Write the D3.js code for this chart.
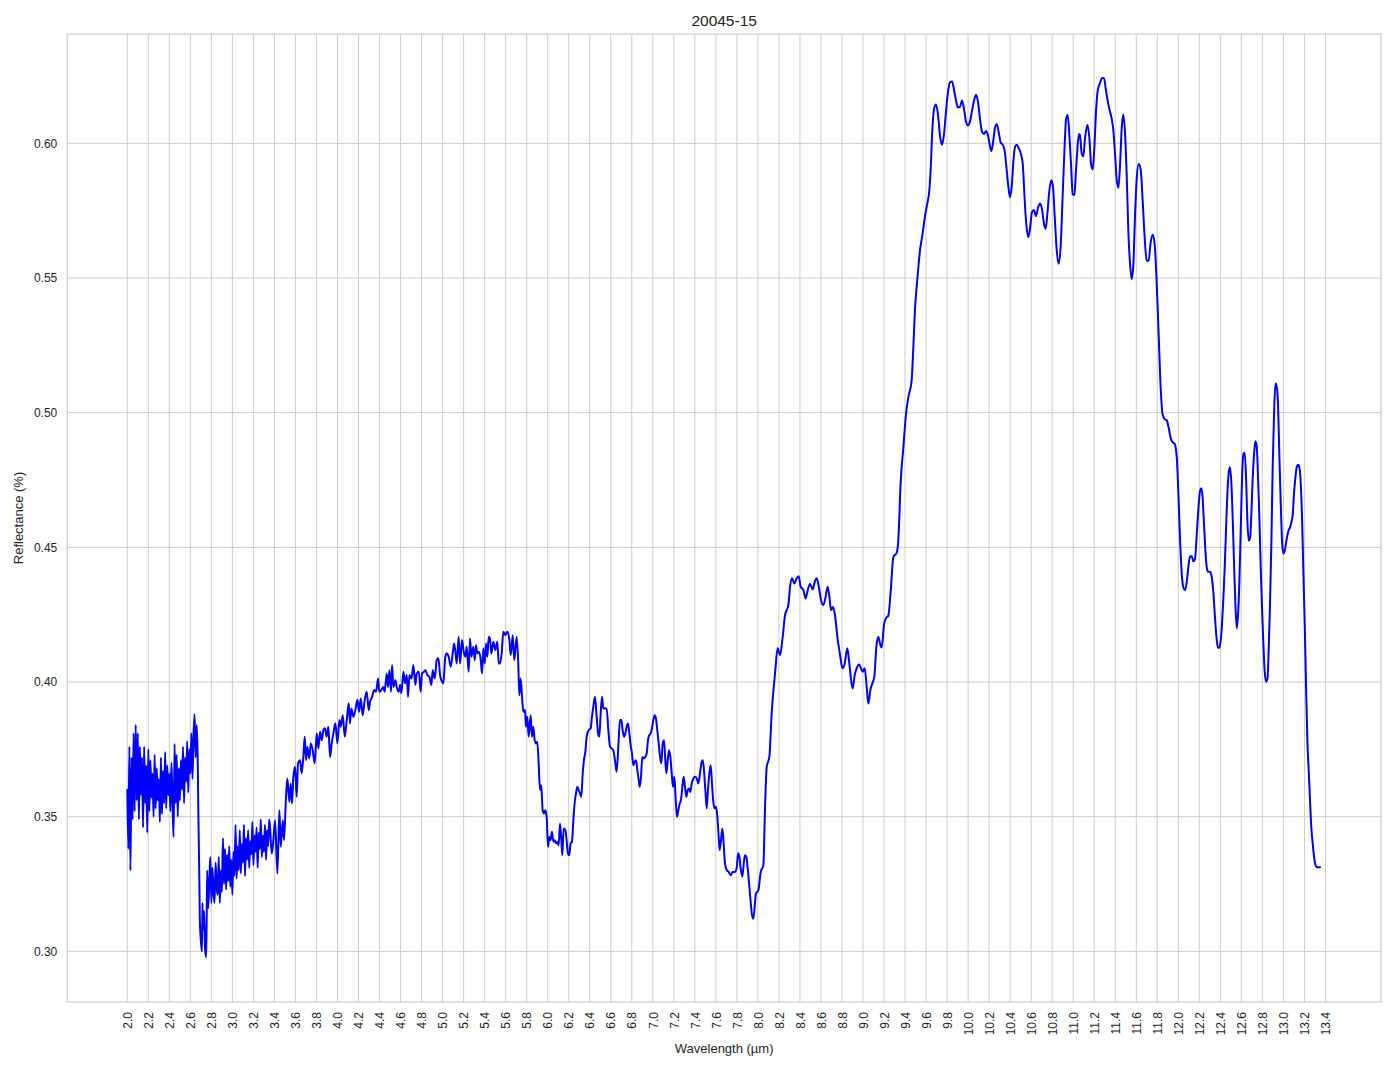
<!DOCTYPE html>
<html>
<head>
<meta charset="utf-8">
<script src="https://cdn.jsdelivr.net/npm/d3@7"></script>
<style>
  html, body { margin: 0; padding: 0; background: #ffffff; }
  svg { display: block; }
  text { font-family: "Liberation Sans", Arial, sans-serif; fill: #262626; }
</style>
</head>
<body>
<svg id="chart" width="1394" height="1069"></svg>
<script>
// ---------- data (wavelength µm, reflectance) ----------
const chartTitle = "20045-15";
const xLabel = "Wavelength (µm)";
const yLabel = "Reflectance (%)";

const xTicks = [2.0,2.2,2.4,2.6,2.8,3.0,3.2,3.4,3.6,3.8,4.0,4.2,4.4,4.6,4.8,5.0,5.2,5.4,5.6,5.8,
  6.0,6.2,6.4,6.6,6.8,7.0,7.2,7.4,7.6,7.8,8.0,8.2,8.4,8.6,8.8,9.0,9.2,9.4,9.6,9.8,
  10.0,10.2,10.4,10.6,10.8,11.0,11.2,11.4,11.6,11.8,12.0,12.2,12.4,12.6,12.8,13.0,13.2,13.4];
const yTicks = [0.30,0.35,0.40,0.45,0.50,0.55,0.60];

const seg1 = [[2.00,0.360],[2.01,0.338],[2.02,0.376],[2.03,0.330],[2.04,0.372],[2.05,0.349],[2.06,0.381],[2.07,0.352],
[2.08,0.384],[2.09,0.356],[2.10,0.381],[2.11,0.349],[2.12,0.376],[2.13,0.358],[2.14,0.372],[2.15,0.346],[2.16,0.376],
[2.17,0.355],[2.18,0.369],[2.19,0.344],[2.20,0.375],[2.21,0.352],[2.22,0.371],[2.23,0.357],[2.24,0.366],[2.25,0.350],
[2.26,0.373],[2.27,0.353],[2.28,0.368],[2.29,0.356],[2.30,0.364],[2.31,0.348],[2.32,0.372],[2.33,0.351],[2.34,0.367],
[2.35,0.355],[2.36,0.374],[2.37,0.353],[2.38,0.369],[2.39,0.358],[2.40,0.366],[2.41,0.352],[2.42,0.370],[2.43,0.356],
[2.44,0.3425],[2.45,0.377],[2.46,0.355],[2.47,0.373],[2.48,0.350],[2.49,0.368],[2.50,0.356],[2.51,0.371],[2.52,0.360],
[2.53,0.376],[2.54,0.355],[2.55,0.372],[2.56,0.363],[2.57,0.378],[2.58,0.359],[2.59,0.375],[2.60,0.366],[2.61,0.381],
[2.62,0.364],[2.63,0.380],[2.64,0.388],[2.65,0.372],[2.66,0.384]];

const seg2 = [[2.67,0.371],[2.675,0.355],[2.68,0.341],[2.685,0.328],[2.69,0.312],[2.70,0.304],[2.71,0.300],[2.715,0.318],
[2.72,0.308],[2.73,0.315],[2.74,0.301],[2.75,0.2978],[2.755,0.311],[2.76,0.330],[2.77,0.316],[2.78,0.326],[2.79,0.335],
[2.80,0.318],[2.81,0.331],[2.82,0.322],[2.83,0.318],[2.84,0.333]];

const seg3 = [[2.85,0.324],[2.86,0.321],[2.87,0.335],[2.88,0.318],[2.89,0.330],[2.90,0.322],[2.91,0.342],[2.92,0.325],
[2.93,0.338],[2.94,0.323],[2.95,0.336],[2.96,0.326],[2.97,0.339],[2.98,0.324],[2.99,0.334],[3.00,0.321],[3.01,0.337],
[3.02,0.328],[3.03,0.347],[3.04,0.327],[3.05,0.339],[3.06,0.330],[3.07,0.345],[3.08,0.329],[3.09,0.340],[3.10,0.333],
[3.11,0.347],[3.12,0.328],[3.13,0.342],[3.14,0.334],[3.15,0.345],[3.16,0.331],[3.17,0.341],[3.18,0.336],[3.19,0.348],
[3.20,0.332],[3.21,0.343],[3.22,0.337],[3.23,0.346],[3.24,0.331],[3.25,0.344],[3.26,0.338],[3.27,0.349],[3.28,0.335],
[3.29,0.343],[3.30,0.337],[3.31,0.347],[3.32,0.334],[3.33,0.345],[3.34,0.339],[3.35,0.349]];

const seg4 = [[3.358,0.3462],[3.374,0.3363],[3.390,0.3413],[3.406,0.3487],[3.428,0.3289],[3.447,0.3524],[3.460,0.3388],
[3.479,0.3487],[3.491,0.3413],[3.510,0.3574],[3.523,0.3642],[3.542,0.3555],[3.555,0.3623],[3.567,0.3549],[3.580,0.3648],
[3.596,0.3685],[3.612,0.3574],[3.624,0.3698],[3.643,0.3710],[3.659,0.3661],[3.675,0.3722],[3.688,0.3797],[3.701,0.3710],
[3.713,0.3760],[3.732,0.3716],[3.745,0.3772],[3.764,0.3747],[3.783,0.3698],[3.802,0.3809],[3.818,0.3753],[3.834,0.3815],
[3.850,0.3784],[3.866,0.3822],[3.881,0.3828],[3.897,0.3797],[3.913,0.3834],[3.929,0.3722],[3.945,0.3772],[3.961,0.3809],
[3.980,0.3847],[3.999,0.3772],[4.018,0.3859],[4.030,0.3834],[4.050,0.3877],[4.069,0.3797],[4.088,0.3859],[4.107,0.3921],
[4.119,0.3846],[4.132,0.3902],[4.151,0.3871],[4.170,0.3896],[4.189,0.3934],[4.205,0.3890],[4.221,0.3939],[4.240,0.3877],
[4.259,0.3933],[4.278,0.3964],[4.297,0.3896],[4.310,0.3927],[4.329,0.3945],[4.348,0.3970],[4.367,0.3964],[4.386,0.4013],
[4.398,0.3964],[4.417,0.3970],[4.436,0.3982],[4.449,0.3964],[4.468,0.4032],[4.481,0.3982],[4.494,0.4044],[4.509,0.3964],
[4.519,0.4063],[4.532,0.3982],[4.551,0.4007],[4.563,0.3982],[4.582,0.3964],[4.595,0.3989],[4.608,0.3958],[4.627,0.4038],
[4.643,0.3995],[4.659,0.4026],[4.671,0.3945],[4.684,0.4026],[4.703,0.4013],[4.722,0.4063],[4.741,0.3989],[4.754,0.4032],
[4.773,0.4038],[4.792,0.3964],[4.804,0.4032],[4.823,0.4038],[4.836,0.4044],[4.855,0.4026],[4.874,0.4020],[4.893,0.3989],
[4.906,0.4044],[4.925,0.4013],[4.944,0.4081],[4.960,0.4088],[4.976,0.4026],[4.995,0.4001],[5.007,0.3995],[5.026,0.4094],
[5.039,0.4106],[5.058,0.4094],[5.077,0.4057],[5.096,0.4106],[5.109,0.4143],[5.122,0.4112],[5.134,0.4069],[5.153,0.4168],
[5.166,0.4069],[5.185,0.4156],[5.198,0.4119],[5.217,0.4094],[5.229,0.4131],[5.248,0.4038],[5.261,0.4162],[5.274,0.4094],
[5.293,0.4131],[5.306,0.4081],[5.318,0.4137],[5.331,0.4106],[5.344,0.4112],[5.363,0.4081],[5.375,0.4032],[5.388,0.4125],
[5.401,0.4069],[5.414,0.4143],[5.426,0.4094],[5.439,0.4168],[5.452,0.4156],[5.464,0.4106],[5.483,0.4150],[5.502,0.4119],
[5.521,0.4150],[5.534,0.4069]];

const seg5 = [[5.546,0.4069],[5.562,0.4106],[5.578,0.4187],[5.597,0.4174],[5.616,0.4187],[5.635,0.4156],[5.648,0.4100],
[5.667,0.4174],[5.682,0.4081],[5.705,0.4168],[5.720,0.4069],[5.730,0.3951],[5.743,0.4013],[5.755,0.3951],[5.768,0.3890],
[5.784,0.3896],[5.793,0.3834],[5.806,0.3871],[5.819,0.3797],[5.838,0.3877],[5.850,0.3797],[5.863,0.3834],[5.876,0.3784],
[5.889,0.3772],[5.901,0.3778],[5.914,0.3698],[5.927,0.3599],[5.939,0.3617],[5.952,0.3524],[5.965,0.3512],[5.977,0.3524],
[5.990,0.3500],[6.003,0.3388],[6.016,0.3425],[6.028,0.3413],[6.041,0.3444],[6.054,0.3407],[6.066,0.3413],[6.079,0.3401],
[6.092,0.3407],[6.104,0.3394],[6.117,0.3475],[6.130,0.3413],[6.139,0.3357],[6.152,0.3456],[6.168,0.3450],[6.180,0.3413],
[6.193,0.3364],[6.206,0.3357],[6.218,0.3401],[6.231,0.3407],[6.244,0.3487],[6.256,0.3549],[6.269,0.3586],[6.282,0.3611],
[6.295,0.3599],[6.307,0.3586],[6.320,0.3574],[6.333,0.3661],[6.345,0.3710],[6.358,0.3741],[6.371,0.3797],[6.390,0.3821],
[6.409,0.3828],[6.421,0.3871],[6.434,0.3908],[6.450,0.3945],[6.466,0.3871],[6.482,0.3803],[6.491,0.3797],[6.504,0.3883],
[6.517,0.3945],[6.529,0.3902],[6.548,0.3902],[6.561,0.3902],[6.577,0.3821],[6.593,0.3760],[6.609,0.3753],[6.624,0.3747],
[6.640,0.3710],[6.656,0.3667],[6.672,0.3760],[6.688,0.3859],[6.701,0.3859],[6.713,0.3821],[6.726,0.3797],[6.739,0.3809],
[6.751,0.3834],[6.764,0.3846],[6.777,0.3809],[6.789,0.3766],[6.802,0.3735],[6.815,0.3691],[6.828,0.3704],[6.840,0.3710],
[6.853,0.3673],[6.866,0.3636],[6.875,0.3611],[6.888,0.3648],[6.900,0.3722],[6.916,0.3716],[6.929,0.3722],[6.942,0.3735],
[6.954,0.3784],[6.967,0.3803],[6.980,0.3809],[6.992,0.3828],[7.005,0.3859],[7.018,0.3877],[7.030,0.3865],[7.043,0.3821],
[7.056,0.3772],[7.069,0.3722],[7.081,0.3698],[7.094,0.3772],[7.107,0.3784],[7.119,0.3710],[7.129,0.3661],[7.142,0.3710],
[7.154,0.3747],[7.167,0.3722],[7.180,0.3661],[7.192,0.3611],[7.205,0.3648],[7.218,0.3562],[7.230,0.3500],[7.243,0.3524],
[7.256,0.3549],[7.268,0.3562],[7.281,0.3611],[7.294,0.3648],[7.306,0.3611],[7.319,0.3574],[7.332,0.3599],[7.345,0.3605],
[7.357,0.3592],[7.370,0.3623],[7.386,0.3642],[7.402,0.3648],[7.418,0.3642],[7.433,0.3623],[7.449,0.3661],[7.462,0.3698],
[7.475,0.3710],[7.487,0.3673],[7.500,0.3599],[7.513,0.3531],[7.525,0.3599],[7.538,0.3661],[7.551,0.3691],[7.563,0.3623],
[7.576,0.3555],[7.589,0.3531],[7.602,0.3537],[7.614,0.3500],[7.627,0.3425],[7.636,0.3376],[7.649,0.3413],[7.662,0.3456],
[7.674,0.3401],[7.687,0.3326],[7.703,0.3302],[7.722,0.3295],[7.741,0.3283],[7.760,0.3295],[7.779,0.3295],[7.798,0.3308],
[7.811,0.3364],[7.824,0.3351],[7.836,0.3308],[7.852,0.3277],[7.865,0.3326],[7.877,0.3357],[7.890,0.3351],[7.903,0.3308],
[7.919,0.3240],[7.934,0.3172],[7.950,0.3122]];

const seg6 = [[7.957,0.3122],[7.982,0.3215],[8.004,0.3227],[8.027,0.3295],[8.052,0.3320],[8.068,0.3537],[8.084,0.3685],
[8.109,0.3722],[8.131,0.3883],[8.163,0.4032],[8.188,0.4125],[8.211,0.4100],[8.236,0.4168],[8.258,0.4248],[8.290,0.4286],
[8.306,0.4354],[8.325,0.4385],[8.347,0.4366],[8.369,0.4385],[8.388,0.4393],[8.407,0.4354],[8.433,0.4341],[8.455,0.4310],
[8.474,0.4341],[8.496,0.4364],[8.522,0.4344],[8.541,0.4372],[8.560,0.4385],[8.582,0.4348],[8.601,0.4304],[8.623,0.4286],
[8.645,0.4317],[8.664,0.4354],[8.680,0.4317],[8.696,0.4267],[8.715,0.4279],[8.734,0.4248],[8.756,0.4168],[8.782,0.4100],
[8.804,0.4051],[8.826,0.4069],[8.851,0.4125],[8.870,0.4069],[8.889,0.4001],[8.902,0.3976],[8.921,0.4026],[8.940,0.4051],
[8.962,0.4065],[8.981,0.4051],[8.997,0.4038],[9.016,0.4051],[9.035,0.3982],[9.051,0.3920],[9.070,0.3970],[9.089,0.3995],
[9.108,0.4020],[9.127,0.4131],[9.146,0.4168]];

const seg7 = [[9.162,0.4143],[9.178,0.4128],[9.200,0.4214],[9.219,0.4237],[9.241,0.4246],[9.264,0.4339],[9.289,0.4464],
[9.321,0.4480],[9.336,0.4527],[9.359,0.4746],[9.384,0.4870],[9.409,0.4995],[9.432,0.5058],[9.463,0.5120],[9.479,0.5245],
[9.495,0.5386],[9.517,0.5495],[9.543,0.5605],[9.568,0.5667],[9.590,0.5730],[9.612,0.5777],[9.631,0.5824],[9.644,0.5902],
[9.657,0.6027],[9.676,0.6128],[9.695,0.6144],[9.714,0.6105],[9.733,0.6027],[9.752,0.5995],[9.771,0.6035],[9.790,0.6120],
[9.809,0.6191],[9.828,0.6227],[9.847,0.6230],[9.866,0.6199],[9.885,0.6159],[9.904,0.6133],[9.923,0.6136],[9.942,0.6159],
[9.961,0.6128],[9.980,0.6081],[9.999,0.6066],[10.018,0.6081],[10.037,0.6120],[10.057,0.6159],[10.076,0.6180],[10.095,0.6152],
[10.114,0.6089],[10.133,0.6042],[10.152,0.6035],[10.171,0.6046],[10.190,0.6027],[10.209,0.5988],[10.222,0.5972],[10.240,0.6011],
[10.256,0.6058],[10.272,0.6071],[10.291,0.6042],[10.310,0.6003],[10.329,0.5995],[10.348,0.5972],[10.367,0.5902],[10.383,0.5839],
[10.399,0.5800],[10.415,0.5839],[10.431,0.5933],[10.447,0.5988],[10.462,0.5995],[10.481,0.5983],[10.500,0.5964],[10.520,0.5925],
[10.532,0.5839],[10.545,0.5745],[10.558,0.5683],[10.573,0.5652],[10.589,0.5683],[10.608,0.5745],[10.627,0.5753],[10.646,0.5730],
[10.665,0.5761],[10.685,0.5777],[10.704,0.5753],[10.723,0.5699],[10.739,0.5683],[10.754,0.5738],[10.773,0.5824],[10.792,0.5863],
[10.808,0.5839],[10.824,0.5730],[10.843,0.5605],[10.862,0.5553],[10.881,0.5620],[10.900,0.5808],[10.919,0.5995],[10.932,0.6089],
[10.948,0.6105],[10.964,0.6027],[10.980,0.5917],[10.995,0.5811],[11.011,0.5808],[11.027,0.5902],[11.043,0.5995],[11.056,0.6035]];

const seg8 = [[11.065,0.6030],[11.081,0.5962],[11.097,0.5952],[11.113,0.6020],[11.135,0.6068],[11.154,0.6020],[11.170,0.5923],
[11.186,0.5903],[11.201,0.5981],[11.217,0.6117],[11.233,0.6195],[11.255,0.6224],[11.277,0.6243],[11.293,0.6243],[11.309,0.6204],
[11.325,0.6165],[11.344,0.6127],[11.363,0.6097],[11.382,0.6049],[11.398,0.5962],[11.414,0.5865],[11.430,0.5835],[11.446,0.5923],
[11.462,0.6059],[11.477,0.6107],[11.493,0.6039],[11.509,0.5884],[11.525,0.5670],[11.541,0.5554],[11.557,0.5496],[11.573,0.5554],
[11.588,0.5729],[11.604,0.5865],[11.623,0.5923],[11.642,0.5903],[11.661,0.5787],[11.680,0.5651],[11.699,0.5564],[11.718,0.5564],
[11.737,0.5632],[11.757,0.5661],[11.776,0.5622],[11.795,0.5476],[11.814,0.5282],[11.833,0.5088],[11.852,0.4991],[11.871,0.4976],
[11.890,0.4972],[11.909,0.4943],[11.928,0.4904],[11.947,0.4890],[11.966,0.4884],[11.985,0.4836],[12.001,0.4700],[12.017,0.4525],
[12.032,0.4409],[12.048,0.4351],[12.064,0.4341],[12.080,0.4370],[12.096,0.4428],[12.112,0.4467],[12.128,0.4467],[12.143,0.4448],
[12.159,0.4457],[12.175,0.4545],[12.191,0.4642],[12.207,0.4710],[12.220,0.4719],[12.232,0.4681],[12.245,0.4584],[12.258,0.4487],
[12.270,0.4428],[12.283,0.4409],[12.302,0.4409],[12.318,0.4390],[12.334,0.4331],[12.350,0.4234],[12.366,0.4156],[12.378,0.4127],
[12.391,0.4127],[12.404,0.4156],[12.416,0.4215],[12.429,0.4312],[12.442,0.4428],[12.454,0.4564],[12.467,0.4700],[12.480,0.4778],
[12.492,0.4797],[12.505,0.4739],[12.518,0.4603],[12.530,0.4448],[12.543,0.4293],[12.556,0.4199],[12.569,0.4254],[12.581,0.4370],
[12.594,0.4564],[12.607,0.4758],[12.619,0.4846],[12.632,0.4851],[12.645,0.4758],[12.657,0.4603],[12.670,0.4525],[12.683,0.4535],
[12.695,0.4622],[12.708,0.4758],[12.721,0.4846],[12.733,0.4894],[12.746,0.4875],[12.759,0.4758],[12.772,0.4603],[12.784,0.4428],
[12.797,0.4273],[12.810,0.4137],[12.822,0.4040],[12.835,0.4001],[12.848,0.4011],[12.860,0.4118],[12.873,0.4293],[12.886,0.4525],
[12.898,0.4797],[12.911,0.4991],[12.924,0.5108],[12.936,0.5098],[12.949,0.5030],[12.962,0.4836],[12.975,0.4661],[12.987,0.4525],
[13.000,0.4477],[13.013,0.4487],[13.025,0.4516],[13.038,0.4545],[13.051,0.4564],[13.063,0.4574],[13.076,0.4593],[13.089,0.4622],
[13.101,0.4700],[13.114,0.4758],[13.127,0.4797],[13.140,0.4807],[13.152,0.4797],[13.165,0.4739],[13.178,0.4603],[13.190,0.4409],
[13.203,0.4215],[13.216,0.3982],[13.228,0.3788],[13.241,0.3671],[13.254,0.3555],[13.266,0.3458],[13.279,0.3400],[13.292,0.3351],
[13.304,0.3322],[13.323,0.3312],[13.349,0.3312]];

const spectrum = [].concat(seg1, seg2, seg3, seg4, seg5, seg6, seg7, seg8);

// ---------- layout ----------
const W = 1394, H = 1069;
const plot = { left: 67.3, right: 1381, top: 34, bottom: 1002 };
const xDomain = [1.4291, 13.9287];
const yDomain = [0.2812, 0.6406];

const svg = d3.select("#chart");
svg.append("rect").attr("width", W).attr("height", H).attr("fill", "#ffffff");

const x = d3.scaleLinear().domain(xDomain).range([plot.left, plot.right]);
const y = d3.scaleLinear().domain(yDomain).range([plot.bottom, plot.top]);

// grid
const grid = svg.append("g").attr("class", "grid");
grid.selectAll("line.vx").data(xTicks).join("line")
  .attr("x1", d => x(d)).attr("x2", d => x(d))
  .attr("y1", plot.top).attr("y2", plot.bottom)
  .attr("stroke", "#cccccc").attr("stroke-width", 1);
grid.selectAll("line.hy").data(yTicks).join("line")
  .attr("x1", plot.left).attr("x2", plot.right)
  .attr("y1", d => y(d)).attr("y2", d => y(d))
  .attr("stroke", "#cccccc").attr("stroke-width", 1);

// spines
svg.append("rect")
  .attr("x", plot.left).attr("y", plot.top)
  .attr("width", plot.right - plot.left).attr("height", plot.bottom - plot.top)
  .attr("fill", "none").attr("stroke", "#cccccc").attr("stroke-width", 1.25);

// clip
svg.append("clipPath").attr("id", "clip").append("rect")
  .attr("x", plot.left).attr("y", plot.top)
  .attr("width", plot.right - plot.left).attr("height", plot.bottom - plot.top);

// line
const line = d3.line().x(d => x(d[0])).y(d => y(d[1])).curve(d3.curveMonotoneX);
svg.append("path").datum(spectrum)
  .attr("clip-path", "url(#clip)")
  .attr("d", line)
  .attr("fill", "none").attr("stroke", "#0000ff")
  .attr("stroke-width", 2).attr("stroke-linejoin", "round").attr("stroke-linecap", "round");

// x axis
const xAxis = d3.axisBottom(x).tickValues(xTicks).tickFormat(d3.format(".1f")).tickSize(0);
const gx = svg.append("g").attr("transform", `translate(0,${plot.bottom})`).call(xAxis);
gx.select(".domain").remove();
gx.selectAll("text")
  .attr("font-size", "12px")
  .attr("fill", "#262626")
  .style("font-family", "'Liberation Sans', Arial, sans-serif")
  .attr("y", 0).attr("x", -10).attr("dy", "0.35em")
  .attr("transform", "rotate(-90)")
  .attr("text-anchor", "end");

// y axis
const yAxis = d3.axisLeft(y).tickValues(yTicks).tickFormat(d3.format(".2f")).tickSize(0).tickPadding(10);
const gy = svg.append("g").attr("transform", `translate(${plot.left},0)`).call(yAxis);
gy.select(".domain").remove();
gy.selectAll("text")
  .attr("font-size", "12px")
  .attr("fill", "#262626")
  .style("font-family", "'Liberation Sans', Arial, sans-serif");

// titles
svg.append("text")
  .attr("x", (plot.left + plot.right) / 2).attr("y", 26)
  .attr("text-anchor", "middle").attr("font-size", "15.5px")
  .text(chartTitle);

svg.append("text")
  .attr("x", (plot.left + plot.right) / 2).attr("y", 1053)
  .attr("text-anchor", "middle").attr("font-size", "13px")
  .text(xLabel);

svg.append("text")
  .attr("transform", `translate(23,${(plot.top + plot.bottom) / 2}) rotate(-90)`)
  .attr("text-anchor", "middle").attr("font-size", "13px")
  .text(yLabel);
</script>
</body>
</html>
